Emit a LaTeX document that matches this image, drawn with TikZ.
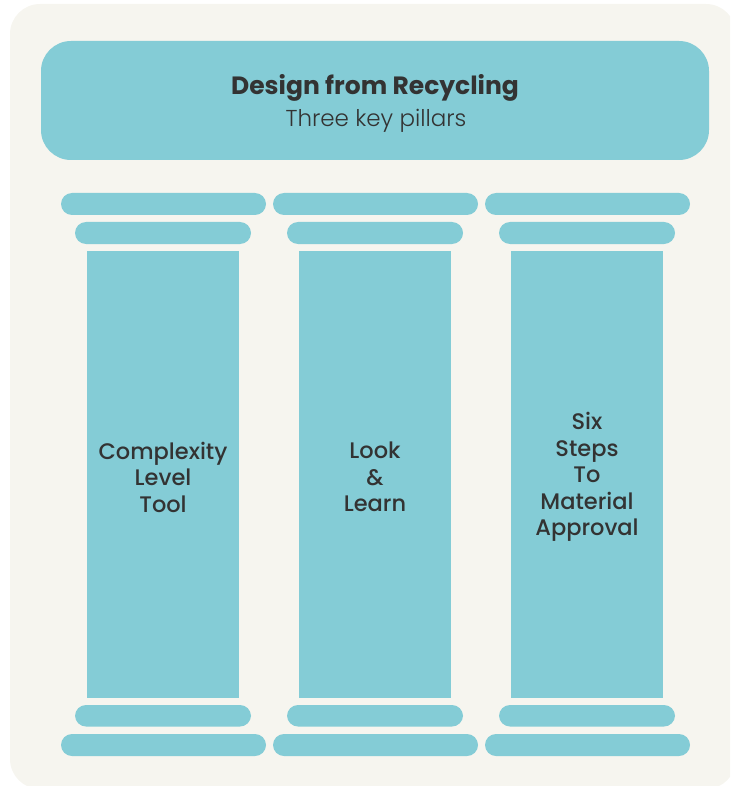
\documentclass[tikz,border=0pt]{standalone}
\usepackage{fontspec}
\setmainfont{Poppins}
\newfontfamily\pmed{Poppins}[UprightFont=* Medium]
\newfontfamily\plight{Poppins}[UprightFont=* Light]
\definecolor{teal}{HTML}{84CCD6}
\definecolor{bgc}{HTML}{F6F5EF}
\definecolor{ink}{HTML}{333333}
\tikzset{
  bar/.style={fill=teal, draw=none, rounded corners=11pt},
  shaft/.style={fill=teal, draw=none},
  ptext/.style={text=ink, align=center, font=\pmed\fontsize{22.5}{26.5}\selectfont, inner sep=0pt}
}
\begin{document}
\begin{tikzpicture}[x=1pt,y=-1pt]
\useasboundingbox (0,0) rectangle (730,786);
\begin{scope}
\clip (0,0) rectangle (730,786);
\fill[bgc, rounded corners=30pt] (10,4) rectangle (736,789);
\end{scope}
\fill[teal, rounded corners=30pt] (41,41) rectangle (709,160);
\node[text=ink, font=\bfseries\fontsize{25}{28}\selectfont, anchor=base, inner sep=0pt] (title) at (375,95) {Design from Recycling};
\node[text=ink, font=\plight\fontsize{23}{26}\selectfont, anchor=base, inner sep=0pt] (sub) at (376,126.5) {Three key pillars};
\foreach \i/\dx in {1/0, 2/212, 3/424} {
  \begin{scope}[xshift=\dx pt]
  \fill[bar] (61,193) rectangle (266,215);
  \fill[bar] (75,222) rectangle (251,244);
  \fill[shaft] (87,251) rectangle (239,698);
  \fill[bar] (75,705) rectangle (251,726.5);
  \fill[bar] (61,734) rectangle (266,756);
  \end{scope}
}
\node[ptext] (p1) at (163,477) {Complexity\\Level\\Tool};
\node[ptext] (p2) at (375,477) {Look\\\&\\Learn};
\node[ptext] (p3) at (587,477) {Six\\Steps\\To\\Material\\Approval};
\end{tikzpicture}
\end{document}
